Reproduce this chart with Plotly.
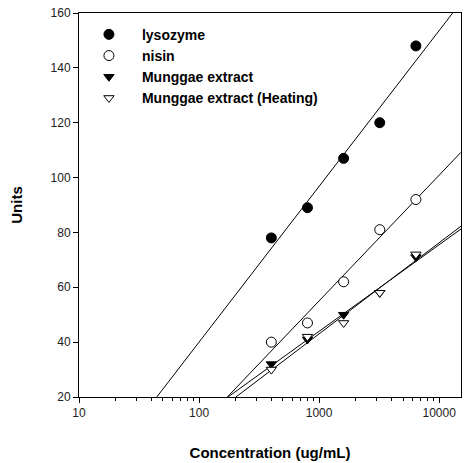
import numpy as np
import plotly.graph_objects as go

conc = [400, 800, 1600, 3200, 6400]
lysozyme = [78, 89, 107, 120, 148]
nisin = [40, 47, 62, 81, 92]
munggae = [32, 41, 50, 58, 71]
munggae_heat = [30, 42, 47, 58, 72]

series = [
    ("lysozyme", lysozyme, "circle", "black"),
    ("nisin", nisin, "circle-open", "white"),
    ("Munggae extract", munggae, "triangle-down", "black"),
    ("Munggae extract (Heating)", munggae_heat, "triangle-down-open", "white"),
]

x_range_log = [1, np.log10(15200)]
y_range = [20, 160]

fig = go.Figure()
lx = np.log10(conc)
for name, ys, sym, fill in series:
    k, b = np.polyfit(lx, ys, 1)
    x0 = max(x_range_log[0], (y_range[0] - b) / k)
    x1 = min(x_range_log[1], (y_range[1] - b) / k)
    xs = np.linspace(x0, x1, 50)
    fig.add_trace(go.Scatter(x=10 ** xs, y=k * xs + b, mode="lines",
                             line=dict(color="black", width=1),
                             showlegend=False, hoverinfo="skip"))

for name, ys, sym, fill in series:
    fig.add_trace(go.Scatter(
        x=conc, y=ys, mode="markers", name="<b>" + name + "</b>",
        marker=dict(symbol=sym.replace("-open", ""), size=10 if "circle" in sym else 9,
                    color=fill, line=dict(color="black", width=1)),
    ))

minor_vals = [m * 10 ** e for e in range(1, 5) for m in range(2, 10) if m * 10 ** e <= 15200]

fig.update_layout(
    width=468, height=463,
    margin=dict(l=79, r=7, t=13, b=66),
    paper_bgcolor="white", plot_bgcolor="white",
    font=dict(family="Liberation Sans, Arial, sans-serif", color="#222"),
    showlegend=True,
    legend=dict(x=-0.008, y=0.985, xanchor="left", yanchor="top",
                bgcolor="rgba(0,0,0,0)", itemwidth=56,
                font=dict(size=14, color="black", family="Liberation Sans, Arial, sans-serif"),
                tracegroupgap=0),
)
fig.update_xaxes(
    type="log", range=x_range_log, automargin=False, ticklabeloverflow="allow",
    tickvals=[10, 100, 1000, 10000], ticktext=["10", "100", "1000", "10000"],
    ticks="outside", ticklen=5, tickcolor="black", tickfont=dict(size=12),
    minor=dict(tickvals=minor_vals, ticks="outside", ticklen=3, tickcolor="black", showgrid=False),
    showline=True, linecolor="black", linewidth=1, mirror=True,
    showgrid=False, zeroline=False,
    title=dict(text="<b>Concentration (ug/mL)</b>", font=dict(size=15, color="black"), standoff=28),
)
fig.update_yaxes(
    range=y_range, tickvals=[20, 40, 60, 80, 100, 120, 140, 160], automargin=False,
    ticklabeloverflow="allow",
    ticks="outside", ticklen=5, tickcolor="black", tickfont=dict(size=12),
    showline=True, linecolor="black", linewidth=1, mirror=True,
    showgrid=False, zeroline=False,
    title=dict(text="<b>Units</b>", font=dict(size=15, color="black"), standoff=24),
)

fig.write_html("out.html", config={"displayModeBar": False},
               post_script="document.body.style.margin='0';")
